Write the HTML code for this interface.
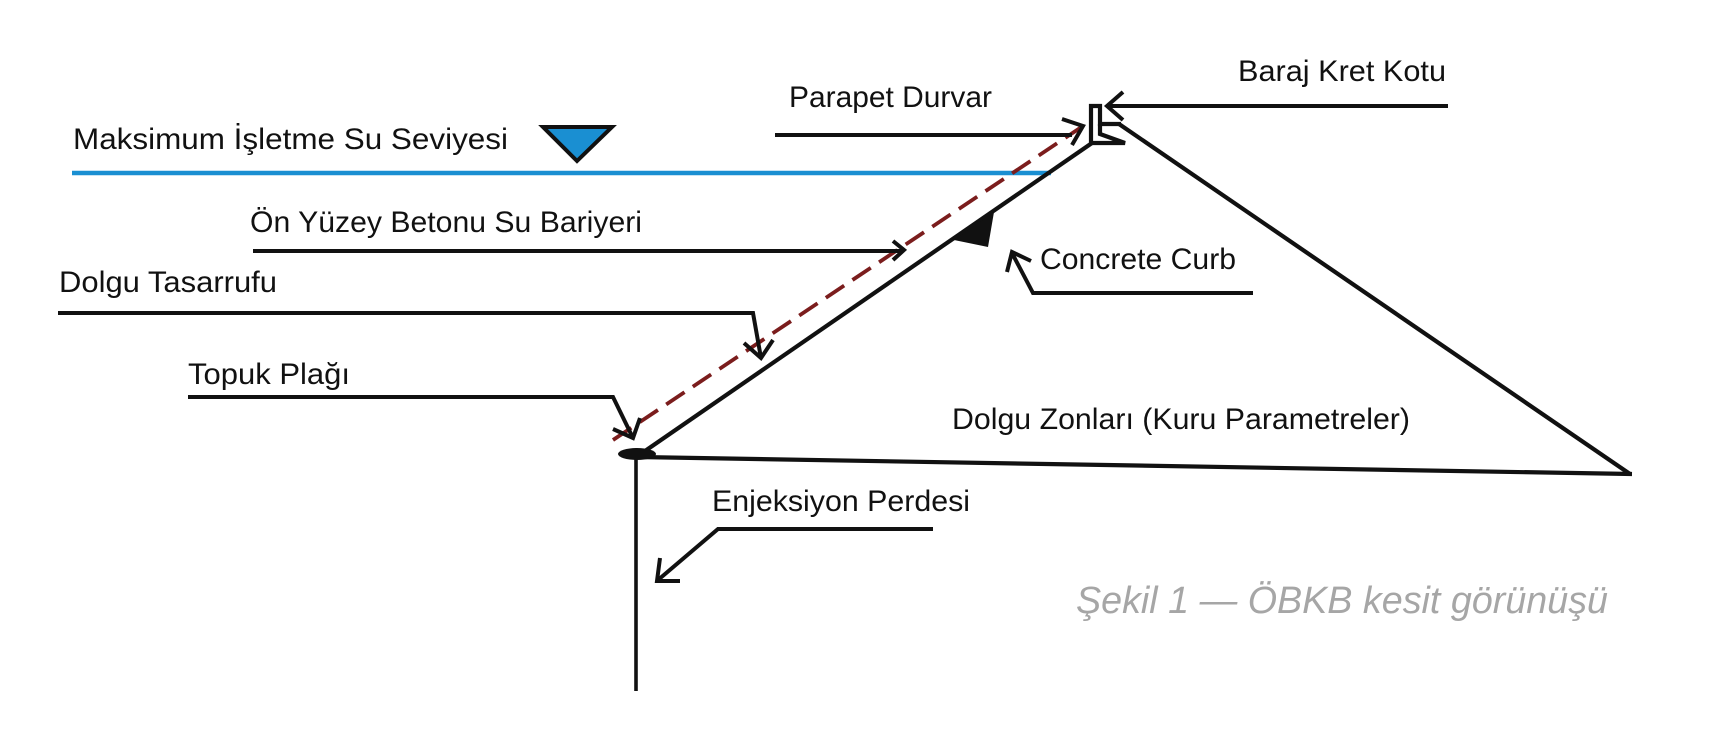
<!DOCTYPE html>
<html>
<head>
<meta charset="utf-8">
<style>
  html, body { margin: 0; padding: 0; background: #ffffff; }
  body { width: 1720px; height: 754px; overflow: hidden; }
  svg { display: block; }
  text { font-family: "Liberation Sans", "DejaVu Sans", sans-serif; fill: #111; }
</style>
</head>
<body>
<svg width="1720" height="754" viewBox="0 0 1720 754" xmlns="http://www.w3.org/2000/svg">
  <rect width="1720" height="754" fill="#ffffff"/>

  <!-- Water level line -->
  <line x1="72" y1="173" x2="1051" y2="173" stroke="#1a8fd2" stroke-width="4.5"/>
  <!-- Water level triangle symbol -->
  <polygon points="543,127 612,127 577,161" fill="#1a8fd2" stroke="#111" stroke-width="4" stroke-linejoin="miter"/>

  <!-- Dam body -->
  <g fill="none" stroke="#111" stroke-width="4.2" stroke-linejoin="miter">
    <!-- upstream face -->
    <line x1="645" y1="451" x2="1092" y2="143"/>
    <!-- downstream slope -->
    <line x1="1119" y1="124" x2="1630" y2="474"/>
    <!-- base -->
    <line x1="638" y1="457" x2="1632" y2="474"/>
    <!-- parapet wall -->
    <path d="M1091,144 V106 H1100 V124 H1121"/>
    <path d="M1100,124 V134 L1125,143 H1089"/>
  </g>

  <!-- Grout curtain vertical -->
  <line x1="636" y1="454" x2="636" y2="691" stroke="#111" stroke-width="3.6"/>
  <!-- Toe plinth -->
  <ellipse cx="637" cy="454" rx="19" ry="6" fill="#111"/>

  <!-- Concrete curb -->
  <polygon points="954,240 994,212 988,247" fill="#111"/>

  <!-- Dashed face line -->
  <line x1="613" y1="440" x2="1083" y2="126" stroke="#7b1d1d" stroke-width="3.8" stroke-dasharray="22 10"/>

  <!-- Leaders -->
  <g fill="none" stroke="#111" stroke-width="4" stroke-linejoin="miter">
    <!-- Parapet Durvar -->
    <path d="M775,135 H1072"/>
    <path d="M1062,119 L1083,126 L1072,145"/>
    <!-- Baraj Kret Kotu -->
    <path d="M1448,106 H1108"/>
    <path d="M1123,92 L1107,106 L1123,120"/>
    <!-- On Yuzey -->
    <path d="M253,251 H902"/>
    <path d="M893,241 L904,250 L893,260"/>
    <!-- Dolgu Tasarrufu -->
    <path d="M58,313 H753 L761,358"/>
    <path d="M744,343 L761,358 L773,340"/>
    <!-- Topuk Plagi -->
    <path d="M188,397 H613 L633,438"/>
    <path d="M613,429 L633,438 L640,418"/>
    <!-- Concrete Curb -->
    <path d="M1253,293 H1033 L1012,253"/>
    <path d="M1007,272 L1012,252 L1031,261"/>
    <!-- Enjeksiyon Perdesi -->
    <path d="M933,529 H718 L658,580"/>
    <path d="M660,558 L657,581 L680,581"/>
  </g>

  <!-- Labels -->
  <text x="73" y="149" font-size="30" textLength="435" lengthAdjust="spacingAndGlyphs">Maksimum İşletme Su Seviyesi</text>
  <text x="789" y="107" font-size="30" textLength="203" lengthAdjust="spacingAndGlyphs">Parapet Durvar</text>
  <text x="1238" y="81" font-size="30" textLength="208" lengthAdjust="spacingAndGlyphs">Baraj Kret Kotu</text>
  <text x="250" y="232" font-size="30" textLength="392" lengthAdjust="spacingAndGlyphs">Ön Yüzey Betonu Su Bariyeri</text>
  <text x="59" y="292" font-size="30" textLength="218" lengthAdjust="spacingAndGlyphs">Dolgu Tasarrufu</text>
  <text x="188" y="384" font-size="30" textLength="162" lengthAdjust="spacingAndGlyphs">Topuk Plağı</text>
  <text x="1040" y="269" font-size="30" textLength="196" lengthAdjust="spacingAndGlyphs">Concrete Curb</text>
  <text x="952" y="429" font-size="30" textLength="458" lengthAdjust="spacingAndGlyphs">Dolgu Zonları (Kuru Parametreler)</text>
  <text x="712" y="511" font-size="30" textLength="258" lengthAdjust="spacingAndGlyphs">Enjeksiyon Perdesi</text>

  <!-- Caption -->
  <text x="1076" y="613" font-size="38" font-style="italic" style="fill:#a6a6a6" textLength="532" lengthAdjust="spacingAndGlyphs">Şekil 1 — ÖBKB kesit görünüşü</text>
</svg>
</body>
</html>
